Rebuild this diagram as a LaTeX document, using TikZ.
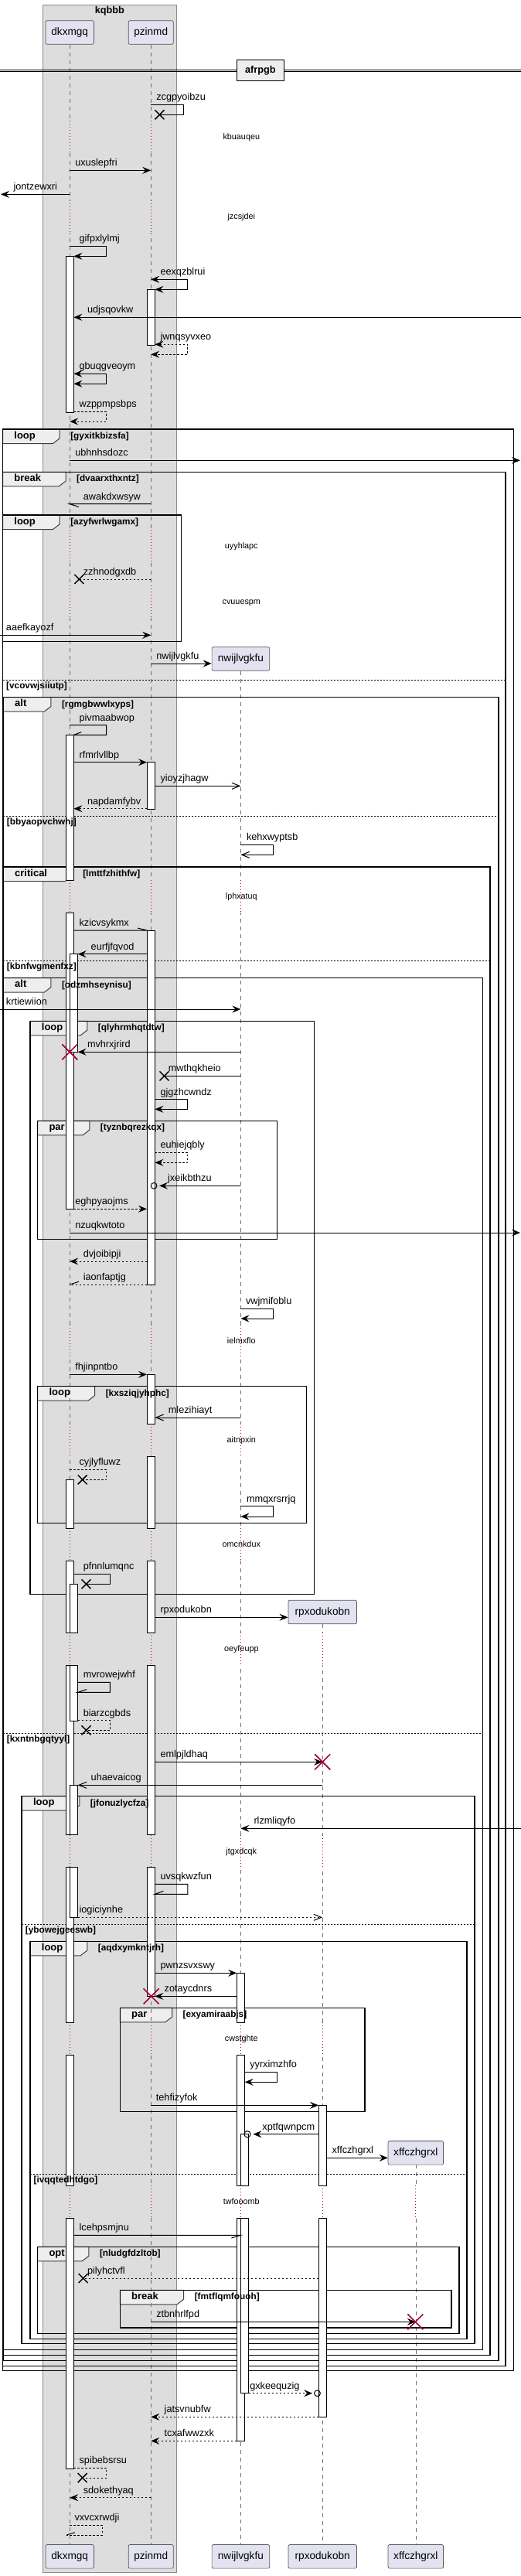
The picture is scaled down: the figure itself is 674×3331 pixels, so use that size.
\documentclass[tikz,border=0pt]{standalone}
\usepackage{fontspec}
\setmainfont{Liberation Sans}
\usetikzlibrary{arrows.meta,positioning}

\definecolor{partfill}{HTML}{E2E2F0}
\definecolor{partborder}{HTML}{555555}
\definecolor{boxfill}{HTML}{DDDDDD}
\definecolor{boxborder}{HTML}{8C8C8C}
\definecolor{tabfill}{HTML}{EEEEEE}
\definecolor{lifegray}{HTML}{6E6E6E}
\definecolor{pumlred}{HTML}{A80036}

\newcommand{\msgfont}{\fontsize{12.7}{15}\selectfont}
\newcommand{\partfont}{\fontsize{13.6}{16}\selectfont}
\newcommand{\tabfont}{\bfseries\fontsize{13}{15}\selectfont}
\newcommand{\condfont}{\bfseries\fontsize{11.8}{14}\selectfont}
\newcommand{\delayfont}{\fontsize{10.8}{13}\selectfont}
\newcommand{\titlefont}{\bfseries\fontsize{12.7}{15}\selectfont}

\newcommand{\lostx}[2]{\draw[line width=1.5pt] (#1-6,#2-6) -- (#1+6,#2+6) (#1-6,#2+6) -- (#1+6,#2-6);}
\newcommand{\killx}[2]{\draw[pumlred,line width=1.6pt] (#1-10,#2-10) -- (#1+10,#2+10) (#1-10,#2+10) -- (#1+10,#2-10);}

\def\grouplist{3.5/555/664.4/3065.3/77.2/loop/gyxitkbizsfa,
3.5/610.3/654/3059.3/85/break/dvaarxthxntz,
3.5/666/234.6/829.7/77.2/loop/azyfwrlwgamx,
4.3/901.7/644.9/3052.7/65.9/alt/rgmgbwwlxyps,
4.3/1121/634/3045.7/93.2/critical/lmttfzhithfw,
4.3/1264.7/624.5/3038.3/65.9/alt/odzmhseynisu,
39/1320.3/406.4/2061.7/112.8/loop/qlyhrmhqtdtw,
48.6/1449.3/358.7/1602.3/115.8/par/tyznbqrezkqx,
48.6/1792.7/396.4/1969.7/122.7/loop/kxsziqjyhphc,
28.2/2322.7/614.1/3030.7/102.8/loop/jfonuzlycfza,
39/2510.3/604.1/3024.3/112.8/loop/aqdxymkntjrh,
155.3/2596.3/471.9/2730.7/222.5/par/exyamiraabjs,
48.6/2905.3/594.2/3017.3/114.9/opt/nludgfdzltob,
155.3/2961.3/583.8/3010/237.7/break/fmtflqmfouoh}

\def\elselist{3.5/879/654/vcovwjsiiutp,
4.3/1055/644.9/bbyaopvchwhj,
4.3/1242/634/kbnfwgmenfxz,
4.3/2241/624.5/kxntnbgqtyyl,
28.2/2488.3/614.1/ybowejgeeswb,
39/2811.7/604.1/ivqqtedhtdgo}

\def\delaylist{178.3/kbuauqeu, 280.5/jzcsjdei, 706.7/uyyhlapc, 779.3/cvuuespm,
1160.3/lphxatuq, 1735.3/ielmxflo, 1863/aitnpxin, 1998.3/omcnkdux,
2133.3/oeyfeupp, 2394.7/jtgxdcqk, 2637/cwstghte, 2848.3/twfooomb}

\begin{document}
\begin{tikzpicture}[x=1pt,y=-1pt,
  part/.style={draw=partborder,fill=partfill,rounded corners=2pt,line width=0.7pt,
    minimum height=30.6pt,inner sep=0pt,font=\partfont},
  lifel/.style={draw=lifegray,line width=0.6pt,dash pattern=on 5pt off 5pt},
  delayl/.style={draw=pumlred,line width=0.8pt,dash pattern=on 1pt off 3pt},
  actbar/.style={draw=black,fill=white,line width=0.9pt},
  msg/.style={draw=black,line width=1pt},
  ret/.style={msg,dash pattern=on 2.5pt off 2.5pt},
  fullarr/.style={-{Stealth[length=11pt,width=9pt,inset=4pt]}},
  bothfull/.style={{Stealth[length=11pt,width=9pt,inset=4pt]}-{Stealth[length=11pt,width=9pt,inset=4pt]}},
  openarr/.style={-{Straight Barb[length=10pt,width=8pt]}},
  lbl/.style={anchor=base west,inner sep=0pt,font=\msgfont},
  tabshape/.style={fill=tabfill,draw=black!75,line width=1pt},
  frameline/.style={draw=black,line width=1.5pt},
  elseline/.style={draw=black,line width=0.9pt,dash pattern=on 2pt off 2pt},
  tablbl/.style={anchor=mid west,inner sep=0pt,font=\tabfont},
  condlbl/.style={anchor=mid west,inner sep=0pt,font=\condfont},
  delaylbl/.style={anchor=mid,inner sep=0pt,font=\delayfont},
  divbox/.style={fill=tabfill,draw=black,line width=1.5pt,minimum width=61.1pt,
    minimum height=26.6pt,inner sep=0pt,font=\titlefont}]
\useasboundingbox (0,0) rectangle (674,3331);

% box round the first two participants
\draw[fill=boxfill,draw=boxborder,line width=0.6pt] (55.1,6) rectangle (228.6,3326);
\node[font=\titlefont] (kqbbb) at (141.8,14.7) {kqbbb};

% participants
\node[part,minimum width=62.4pt] (dkTop) at (90.2,42) {dkxmgq};
\node[part,minimum width=58.1pt] (pzTop) at (195.2,42) {pzinmd};
\node[part,minimum width=74.6pt] (nwTop) at (311.4,852) {nwijlvgkfu};
\node[part,minimum width=88.5pt] (rpTop) at (417.2,2084.5) {rpxodukobn};
\node[part,minimum width=71.5pt] (xfTop) at (537.8,2783.8) {xffczhgrxl};
\node[part,minimum width=62.4pt] (dkBot) at (90.2,3305.8) {dkxmgq};
\node[part,minimum width=58.1pt] (pzBot) at (195.2,3305.8) {pzinmd};
\node[part,minimum width=74.6pt] (nwBot) at (311.4,3305.8) {nwijlvgkfu};
\node[part,minimum width=88.5pt] (rpBot) at (417.2,3305.8) {rpxodukobn};
\node[part,minimum width=71.5pt] (xfBot) at (537.8,3305.8) {xffczhgrxl};

% group tabs
\foreach \xa/\ya/\xb/\yb/\xt/\kind/\cond in \grouplist {
  \draw[tabshape] (\xa,\ya) -- (\xt,\ya) -- (\xt,\ya+11.8) -- (\xt-8.7,\ya+18.5) -- (\xa,\ya+18.5) -- cycle;
}

% lifelines
\draw[lifel] (dkTop.south) -- (dkBot.north);
\draw[lifel] (pzTop.south) -- (pzBot.north);
\draw[lifel] (nwTop.south) -- (nwBot.north);
\draw[lifel] (rpTop.south) -- (rpBot.north);
\draw[lifel] (xfTop.south) -- (xfBot.north);

% delays
\foreach \dy/\txt in \delaylist {
  \foreach \lx/\from/\bgc in {90.2/0/boxfill,195.2/0/boxfill,311.4/867.3/white,417.2/2100.3/white,537.8/2799/white} {
    \ifdim\dy pt>\from pt
      \draw[\bgc,line width=3pt] (\lx,\dy-22) -- (\lx,\dy+20);
      \draw[delayl] (\lx,\dy-22) -- (\lx,\dy+20);
    \fi
  }
}

% group frames and else lines
\foreach \xa/\ya/\xb/\yb/\xt/\kind/\cond in \grouplist {
  \draw[frameline] (\xa,\ya) rectangle (\xb,\yb);
}
\foreach \xa/\ya/\xb/\cond in \elselist {
  \draw[elseline] (\xa,\ya) -- (\xb,\ya);
}

% activation bars
\foreach \ya/\yb in {331.3/533.3,950.3/1138.3,1180.3/1563.3,1913.3/1976.3,2018.3/2111.3,
  2153.3/2372.7,2414.7/2615,2657/2826.3,2868.3/3192.3}
  \draw[actbar] (85,\ya) rectangle (95.4,\yb);
\foreach \ya/\yb in {1233.7/1360.3,2048.3/2111.3,2153.3/2225.7,2308.3/2372.7,2414.7/2479.3}
  \draw[actbar] (90.2,\ya) rectangle (100.6,\yb);
\foreach \ya/\yb in {374.3/446.3,985.7/1046,1203/1661,1777.3/1841,1883/1976.3,
  2018.3/2111.3,2153.3/2372.7,2414.7/2581.3}
  \draw[actbar] (190,\ya) rectangle (200.4,\yb);
\foreach \ya/\yb in {2551.3/2615,2657/2826.3,2868.3/3156.3}
  \draw[actbar] (306.2,\ya) rectangle (316.6,\yb);
\foreach \ya/\yb in {2759.7/2826.3,2868.3/3094.7}
  \draw[actbar] (311.4,\ya) rectangle (321.8,\yb);
\foreach \ya/\yb in {2722.3/2826.3,2868.3/3125.3}
  \draw[actbar] (412,\ya) rectangle (422.4,\yb);

% group, else and delay texts
\foreach \xa/\ya/\xb/\yb/\xt/\kind/\cond in \grouplist {
  \node[tablbl] at (\xa+14.7,\ya+9.5) {\kind};
  \node[condlbl] at (\xt+13.9,\ya+10) {[\cond]};
}
\foreach \xa/\ya/\xb/\cond in \elselist {
  \node[condlbl] at (\xa+4.5,\ya+8.5) {[\cond]};
}
\foreach \dy/\txt in \delaylist {
  \node[delaylbl] at (312.3,\dy) {\txt};
}

% messages
\draw[msg] (195.2,135.3) -| (237.7,148.3) -- (206.4,148.3);
\lostx{206.4}{148.3}
\node[lbl] at (202.1,129.8) {zcgpyoibzu};

\draw[msg,fullarr] (90.2,220.3) -- (195.2,220.3);
\node[lbl] at (97.1,214.8) {uxuslepfri};

\draw[msg,fullarr] (90.2,251.3) -- (1,251.3);
\node[lbl] at (17.3,245.8) {jontzewxri};

\draw[msg,fullarr] (90.2,318.3) -| (137.5,331.3) -- (95.4,331.3);
\node[lbl] at (102.4,312.8) {gifpxlylmj};

\draw[msg,bothfull] (195.2,361.3) -| (242.9,374.3) -- (200.4,374.3);
\node[lbl] at (207.3,355.8) {eexqzblrui};

\draw[msg,fullarr] (674,410.3) -- (95.4,410.3);
\node[lbl] at (112.8,404.8) {udjsqovkw};

\draw[ret,bothfull] (200.4,445.3) -| (242.9,458.3) -- (195.2,458.3);
\node[lbl] at (207.3,439.8) {jwnqsyvxeo};

\draw[msg,bothfull] (95.4,483.3) -| (137.5,496.3) -- (95.4,496.3);
\node[lbl] at (102.4,477.8) {gbuqgveoym};

\draw[ret,fullarr] (95.4,532.3) -| (137.5,545) -- (90.2,545);
\node[lbl] at (102.4,526.8) {wzppmpsbps};

\draw[msg,fullarr] (90.2,595.3) -- (673,595.3);
\node[lbl] at (97.1,589.8) {ubhnhsdozc};

\draw[msg] (195.2,651.7) -- (90.2,651.7) -- ++(11.7,3.7);
\node[lbl] at (107.6,646.2) {awakdxwsyw};

\draw[ret] (195.2,749) -- (102.4,749);
\lostx{102.4}{749}
\node[lbl] at (107.6,743.5) {zzhnodgxdb};

\draw[msg,fullarr] (0,821.3) -- (195.2,821.3);
\node[lbl] at (7.8,815.8) {aaefkayozf};

\draw[msg,fullarr] (195.2,858) -- (273.7,858);
\node[lbl] at (202.1,852.5) {nwijlvgkfu};

\draw[msg] (90.2,937.7) -| (137.5,950.3) -- (95.4,950.3) -- ++(10,-3.7);
\node[lbl] at (102.4,932.2) {pivmaabwop};

\draw[msg,fullarr] (95.4,985.7) -- (190,985.7);
\node[lbl] at (102.4,980.2) {rfmrlvllbp};

\draw[msg,openarr] (200.4,1016.3) -- (311.4,1016.3);
\node[lbl] at (207.3,1010.8) {yioyzjhagw};

\draw[ret,fullarr] (190,1045.7) -- (95.4,1045.7);
\node[lbl] at (112.8,1040.2) {napdamfybv};

\draw[msg,openarr] (311.4,1092.3) -| (353.9,1105.3) -- (311.4,1105.3);
\node[lbl] at (318.8,1086.8) {kehxwyptsb};

\draw[msg] (95.4,1203) -- (190,1203) -- ++(-12,-3);
\node[lbl] at (102.4,1197.5) {kzicvsykmx};

\draw[msg,fullarr] (190,1233.7) -- (100.6,1233.7);
\node[lbl] at (117.5,1228.2) {eurfjfqvod};

\draw[msg,fullarr] (0,1305) -- (311.4,1305);
\node[lbl] at (7.8,1299.5) {krtiewiion};

\draw[msg,fullarr] (311.4,1360.3) -- (100.6,1360.3);
\killx{90.2}{1360.3}
\node[lbl] at (112.8,1354.8) {mvhrxjrird};

\draw[msg] (311.4,1391.3) -- (212.5,1391.3);
\lostx{212.5}{1391.3}
\node[lbl] at (217.7,1385.8) {mwthqkheio};

\draw[msg,fullarr] (200.4,1421.7) -| (242.9,1434.3) -- (200.4,1434.3);
\node[lbl] at (207.3,1416.2) {gjgzhcwndz};

\draw[ret,fullarr] (200.4,1490) -| (242.9,1503.3) -- (200.4,1503.3);
\node[lbl] at (207.3,1484.5) {euhiejqbly};

\draw[msg,fullarr] (311.4,1533.3) -- (206,1533.3);
\draw[msg] (199.1,1533.3) circle (3.9);
\node[lbl] at (216.9,1527.8) {jxeikbthzu};

\draw[ret,fullarr] (95.4,1563.3) -- (190,1563.3);
\node[lbl] at (97.1,1557.8) {eghpyaojms};

\draw[msg,fullarr] (90.2,1594) -- (673,1594);
\node[lbl] at (97.1,1588.5) {nzuqkwtoto};

\draw[ret,fullarr] (190,1631) -- (90.2,1631);
\node[lbl] at (107.6,1625.5) {dvjoibipji};

\draw[ret] (190,1661) -- (90.2,1661);
\draw[msg] (90.2,1661) -- ++(11.7,-3.7);
\node[lbl] at (107.6,1655.5) {iaonfaptjg};

\draw[msg,fullarr] (311.4,1692.3) -| (353.9,1705) -- (311.4,1705);
\node[lbl] at (317.9,1686.8) {vwjmifoblu};

\draw[msg,fullarr] (90.2,1777.3) -- (190,1777.3);
\node[lbl] at (97.1,1771.8) {fhjinpntbo};

\draw[msg,openarr] (311.4,1833) -- (200.4,1833);
\node[lbl] at (217.7,1827.5) {mlezihiayt};

\draw[ret] (90.2,1900.3) -| (137.9,1913.3) -- (106.7,1913.3);
\lostx{106.7}{1913.3}
\node[lbl] at (102.4,1894.8) {cyjlyfluwz};

\draw[msg,fullarr] (311.4,1947.7) -| (353.9,1961) -- (311.4,1961);
\node[lbl] at (318.8,1942.2) {mmqxrsrrjq};

\draw[msg] (95.4,2035.3) -| (142.3,2048.3) -- (111.5,2048.3);
\lostx{111.5}{2048.3}
\node[lbl] at (107.6,2029.8) {pfnnlumqnc};

\draw[msg,fullarr] (200.4,2091.3) -- (372.5,2091.3);
\node[lbl] at (207.3,2085.8) {rpxodukobn};

\draw[msg] (100.6,2175.3) -| (142.3,2188.3) -- (100.6,2188.3) -- ++(11.3,-3.7);
\node[lbl] at (107.6,2169.8) {mvrowejwhf};

\draw[ret] (100.6,2224.7) -| (142.3,2237.3) -- (111.5,2237.3);
\lostx{111.5}{2237.3}
\node[lbl] at (107.6,2219.2) {biarzcgbds};

\draw[msg,fullarr] (200.4,2278.3) -- (417.2,2278.3);
\killx{417.2}{2278.3}
\node[lbl] at (207.3,2272.8) {emlpjldhaq};

\draw[msg,openarr] (417.2,2308.3) -- (100.6,2308.3);
\node[lbl] at (117.5,2302.8) {uhaevaicog};

\draw[msg,fullarr] (674,2364.3) -- (311.4,2364.3);
\node[lbl] at (328.3,2358.8) {rlzmliqyfo};

\draw[msg] (200.4,2436.3) -| (242.9,2449.3) -- (200.4,2449.3) -- ++(11.1,-4);
\node[lbl] at (207.3,2430.8) {uvsqkwzfun};

\draw[ret,openarr] (100.6,2479.3) -- (417.2,2479.3);
\node[lbl] at (102.4,2473.8) {iogiciynhe};

\draw[msg,fullarr] (200.4,2551.3) -- (306.2,2551.3);
\node[lbl] at (207.3,2545.8) {pwnzsvxswy};

\draw[msg,fullarr] (306.2,2581.3) -- (200.4,2581.3);
\killx{195.6}{2581.3}
\node[lbl] at (212.5,2575.8) {zotaycdnrs};

\draw[msg,fullarr] (316.6,2679.3) -| (358.7,2692.3) -- (316.6,2692.3);
\node[lbl] at (323.1,2673.8) {yyrximzhfo};

\draw[msg,fullarr] (195.2,2722.3) -- (412,2722.3);
\node[lbl] at (201.7,2716.8) {tehfizyfok};

\draw[msg,fullarr] (412,2759.7) -- (327.4,2759.7);
\draw[msg] (320,2759.7) circle (4.1);
\node[lbl] at (339.2,2754.2) {xptfqwnpcm};

\draw[msg,fullarr] (422.4,2790.3) -- (501.8,2790.3);
\node[lbl] at (429.4,2784.8) {xffczhgrxl};

\draw[msg] (95.4,2890.3) -- (311.4,2890.3) -- ++(-12,3.7);
\node[lbl] at (102.4,2884.8) {lcehpsmjnu};

\draw[ret] (412,2946) -- (107.6,2946);
\lostx{107.6}{2946}
\node[lbl] at (112.8,2940.5) {pilyhctvfl};

\draw[msg,fullarr] (195.2,3002.3) -- (537.8,3002.3);
\killx{537.3}{3002.3}
\node[lbl] at (202.1,2996.8) {ztbnhrlfpd};

\draw[ret,fullarr] (321.8,3094.7) -- (404.2,3094.7);
\draw[msg] (410.5,3094.7) circle (3.9);
\node[lbl] at (323.1,3089.2) {gxkeequzig};

\draw[ret,fullarr] (412,3125.3) -- (195.2,3125.3);
\node[lbl] at (212.5,3119.8) {jatsvnubfw};

\draw[ret,fullarr] (306.2,3156.3) -- (195.2,3156.3);
\node[lbl] at (212.5,3150.8) {tcxafwwzxk};

\draw[ret] (95.4,3191.3) -| (137.9,3204) -- (106.7,3204);
\lostx{106.7}{3204}
\node[lbl] at (102.4,3185.8) {spibebsrsu};

\draw[ret,fullarr] (195.2,3229.7) -- (90.2,3229.7);
\node[lbl] at (107.6,3224.2) {sdokethyaq};

\draw[ret] (90.2,3265.3) -| (132.7,3278) -- (86,3278);
\draw[msg] (86,3278) -- ++(10.8,-3.3);
\node[lbl] at (96.3,3259.8) {vxvcxrwdji};

% divider
\draw[line width=1pt] (0,90) -- (674,90) (0,92.7) -- (674,92.7);
\node[divbox] (afrpgb) at (336.8,91) {afrpgb};

\end{tikzpicture}
\end{document}
